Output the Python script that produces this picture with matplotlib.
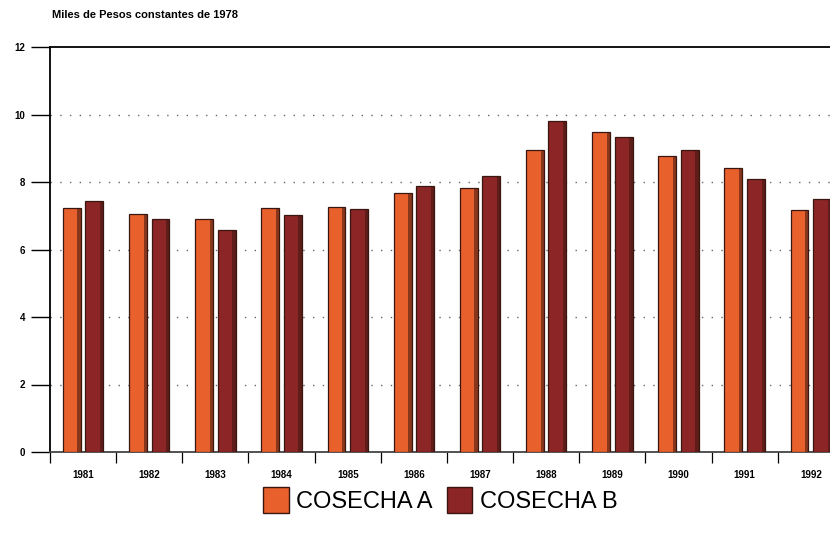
import matplotlib

matplotlib.use("Agg")
import matplotlib.pyplot as plt
import numpy as np
from matplotlib.patches import Patch

plt.rcParams["font.family"] = ["Liberation Sans", "DejaVu Sans"]

YEARS = ["1981", "1982", "1983", "1984", "1985", "1986",
         "1987", "1988", "1989", "1990", "1991", "1992"]
COSECHA_A = [7.24, 7.04, 6.90, 7.24, 7.27, 7.67, 7.82, 8.96, 9.48, 8.77, 8.42, 7.18]
COSECHA_B = [7.44, 6.90, 6.58, 7.01, 7.20, 7.89, 8.19, 9.80, 9.34, 8.96, 8.10, 7.50]
Y_TICKS = [0, 2, 4, 6, 8, 10, 12]

COLOR_A = "#e8602c"
COLOR_B = "#8c2626"
EDGE = "#3a1610"

fig = plt.figure(figsize=(8.3, 5.35), dpi=100)
ax = fig.add_axes([50 / 830, 83 / 535, 780 / 830, 405 / 535])

x = np.arange(len(YEARS))
width = 0.27
offset = 0.17

for xs, vals, col in ((x - offset, COSECHA_A, COLOR_A), (x + offset, COSECHA_B, COLOR_B)):
    ax.bar(xs, vals, width, color=col, edgecolor=EDGE, linewidth=0.9, zorder=3)
    # darker right face inside the bar, a nod to the 3D look of the original
    ax.bar(xs + width / 2 - 0.025, vals, 0.05, color=EDGE, alpha=0.55,
           linewidth=0, zorder=4)

ax.set_xlim(-0.47, 11.29)
ax.set_ylim(0, 12)

ax.set_yticks(Y_TICKS)
ax.set_yticklabels([str(t) for t in Y_TICKS], fontsize=7, fontweight="bold")
ax.tick_params(axis="y", length=14, width=1, pad=4, direction="out")

ax.set_xticks(x)
ax.set_xticklabels(YEARS, fontsize=7, fontweight="bold")
ax.tick_params(axis="x", length=0, pad=13)
ax.set_xticks(np.concatenate([x - 0.5, x]), minor=True)
ax.tick_params(axis="x", which="minor", length=8, width=0.9, direction="out")

for yv in Y_TICKS[1:-1]:
    ax.axhline(yv, color="#666666", linestyle=(0, (1, 6)), linewidth=1.0, zorder=1)

ax.spines["right"].set_visible(False)
for side in ("left", "top", "bottom"):
    ax.spines[side].set_linewidth(1.3)
ax.spines["bottom"].set_color("#444444")

fig.text(52 / 830, 1 - 15 / 535, "Miles de Pesos constantes de 1978",
         fontsize=8, fontweight="bold", va="center", ha="left")

handles = [Patch(facecolor=COLOR_A, edgecolor=EDGE, label="COSECHA A"),
           Patch(facecolor=COLOR_B, edgecolor=EDGE, label="COSECHA B")]
fig.legend(handles=handles, loc="center", bbox_to_anchor=(440 / 830, 1 - 500 / 535),
           ncol=2, frameon=False, fontsize=17, handlelength=1.1, handleheight=1.3,
           handletextpad=0.3, columnspacing=0.6)

fig.savefig("out.png", dpi=100)
